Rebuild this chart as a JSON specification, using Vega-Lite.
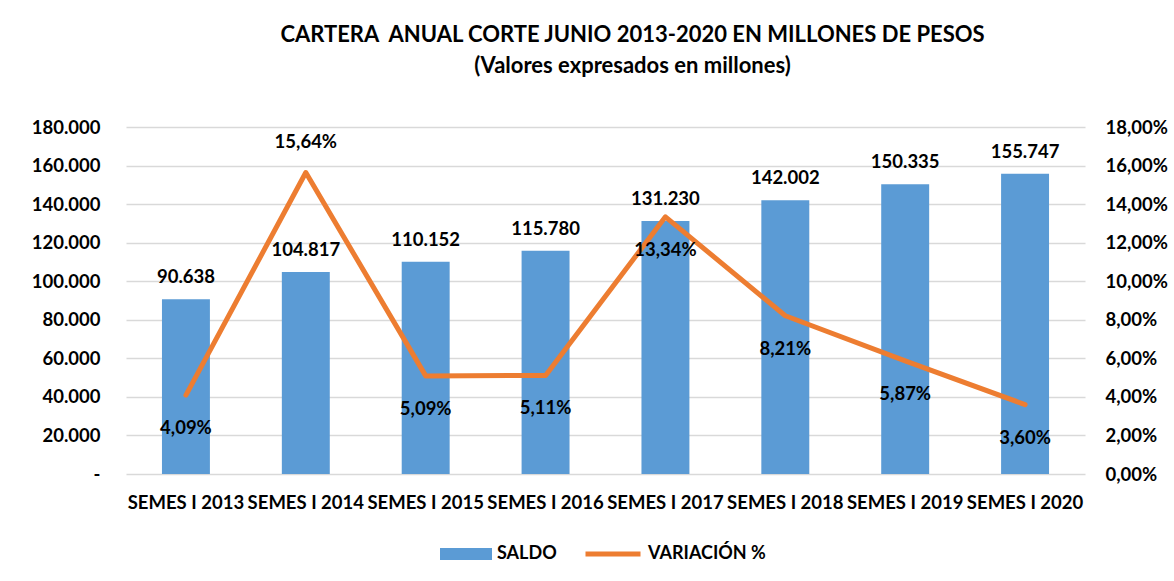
{
  "$schema": "https://vega.github.io/schema/vega-lite/v6.json",
  "autosize": "none",
  "width": 959,
  "height": 347,
  "padding": {"left": 126, "top": 127, "right": 89, "bottom": 107},
  "background": "white",
  "title": {
    "text": "CARTERA\u00a0 ANUAL CORTE JUNIO 2013-2020 EN MILLONES DE PESOS",
    "subtitle": "(Valores expresados en millones)",
    "font": "Lato",
    "fontSize": 22,
    "fontWeight": "bold",
    "color": "#000000",
    "subtitleFont": "Lato",
    "subtitleFontSize": 22,
    "subtitleFontWeight": "bold",
    "subtitleColor": "#000000",
    "subtitlePadding": 9,
    "anchor": "middle",
    "dx": 27,
    "offset": 40
  },
  "data": {
    "values": [
      {"periodo": "SEMES I 2013", "saldo": 90638, "variacion": 0.0409},
      {"periodo": "SEMES I 2014", "saldo": 104817, "variacion": 0.1564},
      {"periodo": "SEMES I 2015", "saldo": 110152, "variacion": 0.0509},
      {"periodo": "SEMES I 2016", "saldo": 115780, "variacion": 0.0511},
      {"periodo": "SEMES I 2017", "saldo": 131230, "variacion": 0.1334},
      {"periodo": "SEMES I 2018", "saldo": 142002, "variacion": 0.0821},
      {"periodo": "SEMES I 2019", "saldo": 150335, "variacion": 0.0587},
      {"periodo": "SEMES I 2020", "saldo": 155747, "variacion": 0.036}
    ]
  },
  "encoding": {
    "x": {
      "field": "periodo",
      "type": "nominal",
      "sort": null,
      "scale": {"paddingInner": 0.6, "paddingOuter": 0.3},
      "axis": {
        "title": null,
        "labelAngle": 0,
        "labelPadding": 19,
        "labelOverlap": false,
        "labelBound": false,
        "labelFontSize": 18.5
      }
    }
  },
  "layer": [
    {
      "encoding": {
        "y": {
          "field": "saldo",
          "type": "quantitative",
          "scale": {"domain": [0, 180000], "nice": false},
          "axis": {
            "title": null,
            "orient": "left",
            "values": [0, 20000, 40000, 60000, 80000, 100000, 120000, 140000, 160000, 180000],
            "tickCount": 20,
            "format": ",.0f",
            "labelExpr": "datum.value == 0 ? '-\u00a0\u00a0' : datum.label",
            "labelPadding": 26,
            "labelOverlap": false,
            "grid": true,
            "gridColor": "#D9D9D9",
            "gridWidth": 1.5
          }
        }
      },
      "layer": [
        {
          "mark": {"type": "bar", "color": "#5B9BD5"},
          "encoding": {
            "fill": {
              "datum": "SALDO",
              "scale": {"range": ["#5B9BD5"]},
              "legend": {
                "title": null,
                "orient": "none",
                "legendX": 314,
                "legendY": 401,
                "symbolType": "M-1,-0.23H1V0.23H-1Z",
                "symbolSize": 2704,
                "symbolStrokeWidth": 0,
                "labelFont": "Lato",
                "labelFontSize": 18,
                "labelFontWeight": "bold",
                "labelColor": "#000000",
                "labelOffset": 5,
                "labelLimit": 300
              }
            }
          }
        },
        {
          "mark": {"type": "text", "baseline": "bottom", "dy": -12, "font": "Lato", "fontSize": 18.5, "fontWeight": "bold", "color": "#000000"},
          "encoding": {
            "text": {"field": "saldo", "type": "quantitative", "format": ",.0f"}
          }
        }
      ]
    },
    {
      "encoding": {
        "y": {
          "field": "variacion",
          "type": "quantitative",
          "scale": {"domain": [0, 0.18], "nice": false},
          "axis": {
            "title": null,
            "orient": "right",
            "values": [0, 0.02, 0.04, 0.06, 0.08, 0.1, 0.12, 0.14, 0.16, 0.18],
            "tickCount": 20,
            "format": ".2%",
            "labelPadding": 20,
            "labelOverlap": false,
            "grid": false
          }
        }
      },
      "layer": [
        {
          "mark": {"type": "line", "strokeWidth": 5, "strokeCap": "round", "strokeJoin": "round"},
          "encoding": {
            "stroke": {
              "datum": "VARIACIÓN %",
              "scale": {"range": ["#ED7D31"]},
              "legend": {
                "title": null,
                "orient": "none",
                "legendX": 457,
                "legendY": 397,
                "symbolType": "stroke",
                "symbolSize": 3025,
                "symbolStrokeWidth": 5,
                "labelFont": "Lato",
                "labelFontSize": 18,
                "labelFontWeight": "bold",
                "labelColor": "#000000",
                "labelOffset": 5,
                "labelLimit": 300
              }
            }
          }
        },
        {
          "transform": [{"filter": "datum.variacion != 0.1564"}],
          "mark": {"type": "text", "baseline": "middle", "dy": 33, "font": "Lato", "fontSize": 18.5, "fontWeight": "bold", "color": "#000000"},
          "encoding": {
            "text": {"field": "variacion", "type": "quantitative", "format": ".2%"}
          }
        },
        {
          "transform": [{"filter": "datum.variacion == 0.1564"}],
          "mark": {"type": "text", "baseline": "middle", "dy": -30, "font": "Lato", "fontSize": 18.5, "fontWeight": "bold", "color": "#000000"},
          "encoding": {
            "text": {"field": "variacion", "type": "quantitative", "format": ".2%"}
          }
        }
      ]
    }
  ],
  "resolve": {"scale": {"y": "independent"}},
  "config": {
    "locale": {
      "number": {"decimal": ",", "thousands": ".", "grouping": [3], "currency": ["$", ""]}
    },
    "view": {"stroke": null},
    "axis": {
      "domain": false,
      "ticks": false,
      "labelOverlap": false,
      "labelFont": "Lato",
      "labelFontWeight": "bold",
      "labelFontSize": 18.5,
      "labelColor": "#000000"
    }
  }
}
